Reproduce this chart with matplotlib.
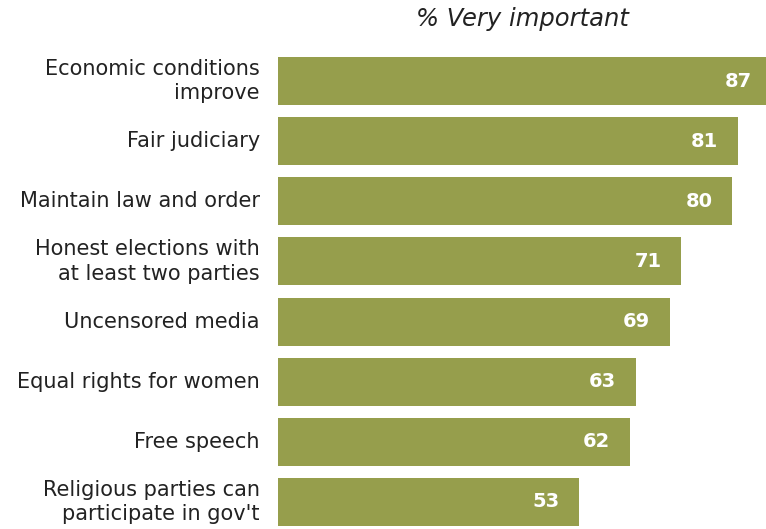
import matplotlib
matplotlib.use("Agg")
import matplotlib.pyplot as plt

categories = ["Economic conditions\nimprove", "Fair judiciary", "Maintain law and order",
              "Honest elections with\nat least two parties", "Uncensored media",
              "Equal rights for women", "Free speech", "Religious parties can\nparticipate in gov't"]
values = [87, 81, 80, 71, 69, 63, 62, 53]
title = "% Very important"

W, H = 766, 529
fig = plt.figure(figsize=(W/100, H/100), dpi=100)
ax_left, ax_right = 278, 766
ax_top, ax_bottom = 51, 532
ax = fig.add_axes([ax_left/W, 1-ax_bottom/H, (ax_right-ax_left)/W, (ax_bottom-ax_top)/H])
n = len(values)
ys = list(range(n))
ax.barh(ys, values, height=0.8, color="#969E4C")
ax.set_ylim(n-0.5, -0.5)
ax.set_xlim(0, 85.9)
ax.axis("off")
for y, v, c in zip(ys, values, categories):
    ax.text(v-3.5, y, str(v), ha="right", va="center", color="white",
            fontsize=14, fontweight="bold")
    ax.text(-3.2, y, c, ha="right", va="center", color="#222222", fontsize=15,
            linespacing=1.3)
fig.text((ax_left+ax_right)/2/W, 1-19/H, title, ha="center", va="center",
         fontsize=17.5, style="italic", color="#222222")
fig.savefig("out.png", dpi=100)
